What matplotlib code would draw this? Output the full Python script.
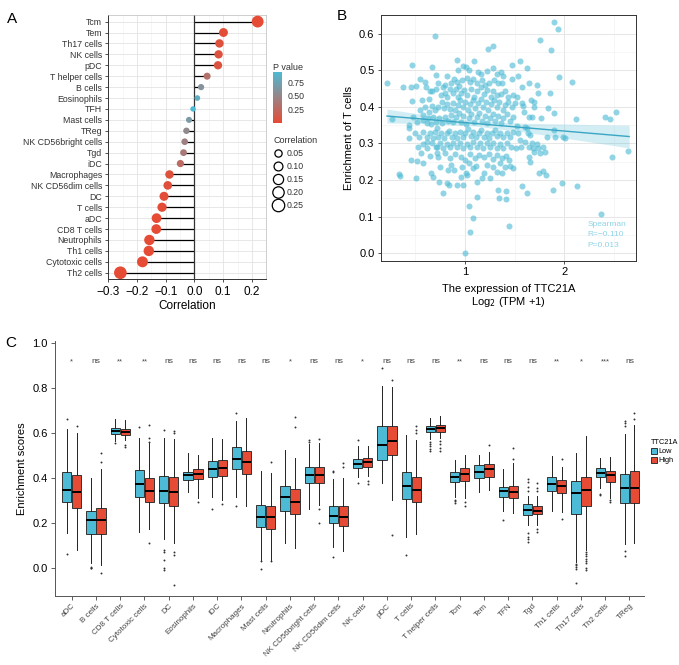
import numpy as np
import matplotlib
matplotlib.use("Agg")
import matplotlib.pyplot as plt
from matplotlib.colors import LinearSegmentedColormap, Normalize
from matplotlib.cm import ScalarMappable
from matplotlib.lines import Line2D
from matplotlib.patches import Patch

plt.rcParams["font.family"] = ["Liberation Sans", "DejaVu Sans"]

RED = "#E64B35"
BLUE = "#4DBBD5"

# ---------------- panel A data ----------------
cells_a = ["Tcm", "Tem", "Th17 cells", "NK cells", "pDC", "T helper cells", "B cells",
           "Eosinophils", "TFH", "Mast cells", "TReg", "NK CD56bright cells", "Tgd", "iDC",
           "Macrophages", "NK CD56dim cells", "DC", "T cells", "aDC", "CD8 T cells",
           "Neutrophils", "Th1 cells", "Cytotoxic cells", "Th2 cells"]
corr_a = [0.220, 0.101, 0.087, 0.084, 0.082, 0.044, 0.023, 0.010, -0.005, -0.019, -0.028,
          -0.034, -0.038, -0.049, -0.087, -0.093, -0.106, -0.113, -0.132, -0.133, -0.157,
          -0.159, -0.181, -0.258]
pval_a = [0.0, 0.02, 0.05, 0.06, 0.07, 0.32, 0.60, 0.83, 0.948, 0.67, 0.53, 0.45, 0.40,
          0.27, 0.05, 0.04, 0.02, 0.01, 0.003, 0.003, 0.001, 0.001, 0.0, 0.0]
size_legend = [0.05, 0.10, 0.15, 0.20, 0.25]

# ---------------- panel B data ----------------
ttc21a_vs_tcells = [
    (0.224, 0.464), (0.268, 0.367), (0.344, 0.217), (0.351, 0.212), (0.385, 0.454),
    (0.438, 0.342), (0.445, 0.351), (0.445, 0.314), (0.462, 0.255), (0.475, 0.515),
    (0.462, 0.454), (0.472, 0.417), (0.512, 0.205), (0.512, 0.457), (0.525, 0.253),
    (0.552, 0.476), (0.559, 0.275), (0.572, 0.419), (0.579, 0.378), (0.585, 0.246),
    (0.602, 0.469), (0.612, 0.455), (0.619, 0.355), (0.625, 0.305), (0.639, 0.422),
    (0.652, 0.266), (0.662, 0.219), (0.672, 0.510), (0.672, 0.442), (0.686, 0.209),
    (0.702, 0.594), (0.712, 0.487), (0.719, 0.291), (0.719, 0.273), (0.726, 0.342),
    (0.739, 0.196), (0.786, 0.164), (0.803, 0.460), (0.819, 0.193), (0.833, 0.228),
    (0.839, 0.187), (0.866, 0.241), (0.893, 0.228), (0.920, 0.528), (0.933, 0.501),
    (0.920, 0.187), (0.980, 0.187), (1.000, 0.000), (1.013, 0.219), (1.027, 0.214),
    (1.047, 0.130), (1.054, 0.058), (1.080, 0.097), (1.094, 0.524), (1.120, 0.153),
    (1.171, 0.205), (1.234, 0.557), (1.288, 0.565), (1.334, 0.173), (1.341, 0.150),
    (1.415, 0.171), (1.415, 0.148), (1.448, 0.075), (1.472, 0.515), (1.482, 0.234),
    (1.555, 0.526), (1.575, 0.184), (1.622, 0.507), (1.622, 0.164), (1.649, 0.466),
    (1.669, 0.419), (1.696, 0.414), (1.749, 0.219), (1.756, 0.583), (1.722, 0.460),
    (1.736, 0.437), (1.763, 0.369), (1.789, 0.226), (1.816, 0.214), (1.823, 0.319),
    (1.839, 0.396), (1.856, 0.437), (1.863, 0.556), (1.890, 0.173), (1.896, 0.633),
    (1.900, 0.383), (1.896, 0.337), (1.910, 0.319), (1.940, 0.613), (1.943, 0.481),
    (1.980, 0.191), (1.990, 0.319), (2.003, 0.314), (2.077, 0.469), (2.117, 0.366),
    (2.124, 0.184), (2.371, 0.107), (2.411, 0.373), (2.458, 0.367), (2.482, 0.262),
    (2.518, 0.387), (2.642, 0.280),
    (1.572, 0.410), (1.582, 0.403), (1.595, 0.387), (1.609, 0.346), (1.622, 0.342),
    (1.639, 0.328), (1.656, 0.323), (1.672, 0.301), (1.649, 0.291), (1.686, 0.287),
    (1.696, 0.278), (1.722, 0.299), (1.739, 0.287), (1.756, 0.273), (1.789, 0.291),
    (1.806, 0.278), (1.649, 0.262), (1.656, 0.250), (1.522, 0.348), (1.538, 0.328),
    (1.555, 0.310), (1.562, 0.291), (1.515, 0.287), (1.538, 0.483), (1.572, 0.455),
    (1.522, 0.428), (1.642, 0.372), (1.676, 0.373), (1.696, 0.401), (1.605, 0.305),
    (0.980, 0.512), (1.010, 0.510), (1.040, 0.501), (1.134, 0.496), (1.161, 0.490),
    (1.221, 0.499), (1.281, 0.505), (1.321, 0.490), (1.361, 0.494), (1.388, 0.483),
    (1.472, 0.475), (0.819, 0.483), (0.860, 0.466), (0.893, 0.475), (0.920, 0.469),
    (0.946, 0.457), (0.970, 0.474), (1.020, 0.478), (1.054, 0.469), (1.087, 0.475),
    (1.120, 0.466), (1.171, 0.474), (1.204, 0.460), (1.248, 0.466), (1.298, 0.474),
    (1.338, 0.464), (1.371, 0.466), (0.779, 0.454), (0.736, 0.464),
    (0.652, 0.444), (0.712, 0.448), (0.759, 0.433), (0.803, 0.439), (0.826, 0.428),
    (0.853, 0.448), (0.886, 0.437), (0.913, 0.448), (0.933, 0.428), (0.960, 0.439),
    (0.993, 0.446), (1.027, 0.433), (1.060, 0.448), (1.094, 0.428), (1.127, 0.442),
    (1.161, 0.454), (1.194, 0.435), (1.221, 0.446), (1.261, 0.428), (1.288, 0.442),
    (1.321, 0.433), (1.361, 0.435), (1.405, 0.442), (1.438, 0.428), (1.482, 0.433),
    (0.552, 0.392), (0.602, 0.401), (0.645, 0.387), (0.669, 0.403), (0.702, 0.392),
    (0.736, 0.401), (0.769, 0.414), (0.793, 0.396), (0.826, 0.408), (0.853, 0.393),
    (0.880, 0.410), (0.903, 0.392), (0.930, 0.405), (0.953, 0.419), (0.980, 0.399),
    (1.003, 0.414), (1.030, 0.392), (1.054, 0.408), (1.080, 0.419), (1.107, 0.396),
    (1.134, 0.410), (1.161, 0.421), (1.187, 0.401), (1.211, 0.414), (1.237, 0.392),
    (1.264, 0.408), (1.294, 0.419), (1.321, 0.399), (1.348, 0.412), (1.381, 0.392),
    (1.405, 0.405), (1.438, 0.414), (1.472, 0.399), (1.505, 0.410),
    (0.485, 0.372), (0.525, 0.360), (0.579, 0.364), (0.635, 0.369), (0.659, 0.353),
    (0.686, 0.373), (0.712, 0.360), (0.746, 0.369), (0.773, 0.355), (0.803, 0.373),
    (0.836, 0.362), (0.860, 0.378), (0.886, 0.358), (0.913, 0.371), (0.940, 0.383),
    (0.963, 0.360), (0.987, 0.375), (1.013, 0.353), (1.040, 0.369), (1.067, 0.381),
    (1.094, 0.360), (1.120, 0.373), (1.147, 0.384), (1.174, 0.362), (1.201, 0.375),
    (1.227, 0.355), (1.254, 0.369), (1.281, 0.381), (1.308, 0.362), (1.334, 0.375),
    (1.361, 0.355), (1.388, 0.369), (1.421, 0.381), (1.455, 0.362), (1.488, 0.373),
    (0.502, 0.330), (0.545, 0.319), (0.585, 0.332), (0.619, 0.319), (0.652, 0.328),
    (0.679, 0.314), (0.706, 0.332), (0.736, 0.319), (0.763, 0.330), (0.789, 0.314),
    (0.819, 0.328), (0.846, 0.335), (0.873, 0.319), (0.900, 0.328), (0.926, 0.314),
    (0.953, 0.332), (0.980, 0.319), (1.007, 0.328), (1.033, 0.339), (1.060, 0.321),
    (1.087, 0.332), (1.114, 0.317), (1.140, 0.328), (1.167, 0.337), (1.194, 0.319),
    (1.221, 0.330), (1.248, 0.314), (1.274, 0.328), (1.301, 0.337), (1.328, 0.321),
    (1.355, 0.330), (1.388, 0.317), (1.421, 0.330), (1.455, 0.319), (1.488, 0.332),
    (0.535, 0.291), (0.585, 0.299), (0.625, 0.287), (0.669, 0.301), (0.712, 0.291),
    (0.753, 0.302), (0.786, 0.287), (0.819, 0.299), (0.853, 0.290), (0.886, 0.302),
    (0.920, 0.291), (0.953, 0.301), (0.987, 0.287), (1.020, 0.299), (1.054, 0.290),
    (1.087, 0.305), (1.120, 0.291), (1.154, 0.301), (1.187, 0.287), (1.221, 0.301),
    (1.254, 0.291), (1.288, 0.302), (1.321, 0.287), (1.355, 0.299), (1.388, 0.287),
    (1.421, 0.301), (1.462, 0.291),
    (0.736, 0.264), (0.803, 0.273), (0.853, 0.260), (0.903, 0.271), (0.960, 0.264),
    (1.003, 0.255), (1.054, 0.271), (1.104, 0.260), (1.147, 0.269), (1.194, 0.262),
    (1.248, 0.271), (1.288, 0.257), (1.328, 0.269), (1.371, 0.260), (1.415, 0.266),
    (1.448, 0.255), (0.753, 0.237), (0.970, 0.237), (1.047, 0.246), (1.114, 0.239),
    (1.221, 0.241), (1.281, 0.237), (1.355, 0.246), (1.405, 0.237), (1.455, 0.239),
    (1.321, 0.223), (1.371, 0.219), (1.191, 0.219), (1.087, 0.232), (0.960, 0.209),
    (1.127, 0.196), (1.254, 0.205),
]
fit_x = [0.22, 2.65]
fit_y = [0.375, 0.319]
band_x = [0.22, 0.60, 1.10, 1.60, 2.10, 2.65]
band_half = [0.019, 0.012, 0.007, 0.012, 0.021, 0.031]

# ---------------- panel C data ----------------
cells_c = ["aDC", "B cells", "CD8 T cells", "Cytotoxic cells", "DC", "Eosinophils", "iDC",
           "Macrophages", "Mast cells", "Neutrophils", "NK CD56bright cells",
           "NK CD56dim cells", "NK cells", "pDC", "T cells", "T helper cells", "Tcm", "Tem",
           "TFN", "Tgd", "Th1 cells", "Th17 cells", "Th2 cells", "TReg"]
signif = ["*", "ns", "**", "**", "ns", "ns", "ns", "ns", "ns", "*", "ns", "ns", "*", "ns",
          "ns", "ns", "**", "ns", "ns", "ns", "**", "*", "***", "ns"]

low_wlo = [0.153, 0.019, 0.565, 0.160, 0.126, 0.335, 0.316, 0.313, 0.034, 0.111, 0.262, 0.094,
           0.406, 0.379, 0.138, 0.572, 0.316, 0.336, 0.254, 0.190, 0.254, 0.027, 0.354, 0.104]
low_q1 = [0.291, 0.150, 0.596, 0.313, 0.287, 0.391, 0.403, 0.438, 0.180, 0.254, 0.376, 0.198,
          0.443, 0.480, 0.305, 0.603, 0.380, 0.401, 0.316, 0.236, 0.342, 0.238, 0.406, 0.287]
low_med = [0.346, 0.211, 0.609, 0.371, 0.343, 0.415, 0.441, 0.484, 0.227, 0.316, 0.413, 0.230,
           0.462, 0.547, 0.364, 0.618, 0.406, 0.428, 0.342, 0.257, 0.373, 0.334, 0.423, 0.354]
low_q3 = [0.425, 0.254, 0.621, 0.435, 0.409, 0.428, 0.477, 0.536, 0.279, 0.366, 0.447, 0.275,
          0.484, 0.632, 0.428, 0.632, 0.425, 0.458, 0.361, 0.282, 0.406, 0.386, 0.443, 0.416]
low_whi = [0.620, 0.398, 0.661, 0.577, 0.577, 0.510, 0.577, 0.655, 0.431, 0.524, 0.550, 0.394,
           0.540, 0.810, 0.591, 0.669, 0.480, 0.500, 0.438, 0.320, 0.498, 0.510, 0.487, 0.596]
low_out = [[0.663, 0.061], [0.0, 0.003, -0.002], [0.555], [0.625], [0.615, 0.080, 0.070, 0.035,
           0.0, -0.010], [], [0.262], [0.691, 0.276], [0.030, -0.007], [], [0.560, 0.570],
           [0.430, 0.425, 0.046], [0.570, 0.376], [0.889], [0.056],
           [0.560, 0.550, 0.540, 0.530, 0.520], [0.300, 0.295, 0.290], [], [0.212],
           [0.340, 0.360, 0.383, 0.395, 0.153, 0.138, 0.126, 0.116], [],
           [0.017, 0.010, 0.002, -0.005, -0.070], [0.330, 0.325], [0.630, 0.645, 0.655,
           0.074, 0.052]]

high_wlo = [0.079, 0.010, 0.570, 0.171, 0.108, 0.312, 0.300, 0.276, 0.030, 0.089, 0.280, 0.076,
            0.410, 0.300, 0.149, 0.580, 0.310, 0.345, 0.245, 0.190, 0.250, 0.079, 0.310, 0.111]
high_q1 = [0.267, 0.150, 0.593, 0.294, 0.276, 0.394, 0.409, 0.416, 0.171, 0.238, 0.376, 0.186,
           0.450, 0.502, 0.294, 0.606, 0.388, 0.406, 0.309, 0.238, 0.334, 0.275, 0.383, 0.290]
high_med = [0.339, 0.212, 0.605, 0.343, 0.339, 0.416, 0.444, 0.470, 0.227, 0.293, 0.412, 0.227,
            0.470, 0.566, 0.346, 0.621, 0.416, 0.438, 0.339, 0.254, 0.364, 0.346, 0.413, 0.357]
high_q3 = [0.413, 0.267, 0.617, 0.400, 0.403, 0.440, 0.480, 0.520, 0.276, 0.349, 0.447, 0.275,
           0.487, 0.632, 0.406, 0.634, 0.443, 0.462, 0.364, 0.276, 0.391, 0.406, 0.431, 0.432]
high_whi = [0.599, 0.440, 0.660, 0.554, 0.575, 0.502, 0.575, 0.666, 0.420, 0.487, 0.554, 0.400,
            0.540, 0.804, 0.569, 0.678, 0.502, 0.517, 0.465, 0.320, 0.450, 0.587, 0.495, 0.636]
high_out = [[0.632], [0.470, 0.510, -0.025], [0.547, 0.536], [0.560, 0.580, 0.636, 0.110],
            [0.600, 0.610, 0.070, 0.055, -0.075], [0.294], [0.284], [], [0.470, 0.030],
            [0.628, 0.670], [0.575, 0.262, 0.200], [0.450, 0.465], [0.385, 0.375],
            [0.837, 0.146], [0.600, 0.615, 0.630], [0.565, 0.550, 0.535, 0.520],
            [0.294, 0.276], [0.547], [0.484, 0.532], [0.340, 0.355, 0.376, 0.172, 0.160],
            [0.484, 0.215], [0.070, 0.060, 0.050, 0.040, 0.030, 0.020, 0.0, -0.010],
            [0.300, 0.294], [0.661, 0.688]]

# ---------------- figure ----------------
fig = plt.figure(figsize=(6.79, 6.65), dpi=100)

# ---- panel A ----
cmap = LinearSegmentedColormap.from_list("pv", [RED, BLUE])
norm = Normalize(0, 0.948)
axA = fig.add_axes([0.1595, 0.58, 0.2318, 0.3974])
n = len(cells_a)
ya = np.arange(n)[::-1]
corr = np.array(corr_a)
sizes = 0.5184 * (27 + 515 * np.abs(corr))
axA.hlines(ya, 0, corr, color="black", lw=0.9, zorder=2)
axA.axvline(0, color="#333333", lw=0.9, zorder=2)
axA.scatter(corr, ya, s=sizes, c=pval_a, cmap=cmap, norm=norm, zorder=3, linewidths=0)
axA.set_xlim(-0.300, 0.248)
axA.set_ylim(-0.6, n - 0.4)
axA.set_yticks(ya)
axA.set_yticklabels(cells_a, fontsize=6.3, color="#333333")
axA.set_xticks([-0.3, -0.2, -0.1, 0.0, 0.1, 0.2])
axA.set_xticklabels(["\u22120.3", "\u22120.2", "\u22120.1", "0.0", "0.1", "0.2"], fontsize=8.5)
axA.set_xticks(np.arange(-0.25, 0.25, 0.1), minor=True)
axA.grid(True, which="major", color="#E3E3E3", lw=0.6)
axA.grid(True, which="minor", axis="x", color="#EFEFEF", lw=0.4)
axA.set_axisbelow(True)
axA.tick_params(axis="both", which="major", length=2.5, width=0.6, color="#333333", pad=2)
axA.tick_params(axis="x", which="minor", length=0)
axA.set_xlabel("Correlation", fontsize=8.5, labelpad=2)
for side in ["left", "bottom"]:
    axA.spines[side].set_color("#333333")
    axA.spines[side].set_linewidth(0.7)
for side in ["top", "right"]:
    axA.spines[side].set_color("#BBBBBB")
    axA.spines[side].set_linewidth(0.5)

cax = fig.add_axes([0.4016, 0.8155, 0.0141, 0.0767])
cb = fig.colorbar(ScalarMappable(norm=norm, cmap=cmap), cax=cax)
cb.outline.set_visible(False)
cb.set_ticks([0.25, 0.50, 0.75])
cb.set_ticklabels(["0.25", "0.50", "0.75"])
cax.tick_params(labelsize=6.3, length=2, color="white", width=0.6, pad=2, labelcolor="#333333")
fig.text(0.4016, 0.892, "P value", fontsize=6.5, color="#333333", va="bottom")

size_handles = [Line2D([], [], ls="none", marker="o", markerfacecolor="none",
                       markeredgecolor="black", markeredgewidth=0.9,
                       markersize=0.72 * np.sqrt(27 + 515 * v)) for v in size_legend]
leg = axA.legend(size_handles, ["%.2f" % v for v in size_legend], title="Correlation",
                 loc="upper left", bbox_to_anchor=(0.397, 0.802), bbox_transform=fig.transFigure,
                 frameon=False, fontsize=6.3, title_fontsize=6.5, handlelength=1.0,
                 handletextpad=0.4, labelspacing=0.45, borderpad=0, alignment="left")
for t in leg.get_texts():
    t.set_color("#333333")
leg.get_title().set_color("#333333")

# ---- panel B ----
axB = fig.add_axes([0.5607, 0.608, 0.376, 0.3695])
pts = np.array(ttc21a_vs_tcells)
bx = np.array(band_x)
by = np.interp(bx, fit_x, fit_y)
axB.fill_between(bx, by - np.array(band_half), by + np.array(band_half),
                 color=BLUE, alpha=0.25, lw=0, zorder=2)
axB.scatter(pts[:, 0], pts[:, 1], s=19, color=BLUE, alpha=0.62, linewidths=0, zorder=3)
axB.plot(fit_x, fit_y, color="#3AA6C4", lw=1.0, zorder=4)
axB.set_xlim(0.157, 2.719)
axB.set_ylim(-0.020, 0.651)
axB.set_xticks([1, 2])
axB.set_xticks([0.5, 1.5, 2.5], minor=True)
axB.set_yticks(np.arange(0, 0.61, 0.1))
axB.set_yticks(np.arange(0.05, 0.65, 0.1), minor=True)
axB.set_yticklabels(["0.0", "0.1", "0.2", "0.3", "0.4", "0.5", "0.6"])
axB.grid(True, which="major", color="#E6E6E6", lw=0.7)
axB.grid(True, which="minor", color="#F0F0F0", lw=0.4)
axB.set_axisbelow(True)
axB.tick_params(axis="both", which="major", labelsize=8, length=2.5, width=0.6,
                color="#333333", pad=2)
axB.tick_params(axis="both", which="minor", length=0)
for s in axB.spines.values():
    s.set_color("#333333")
    s.set_linewidth(0.7)
axB.set_ylabel("Enrichment of T cells", fontsize=8, labelpad=4)
axB.set_xlabel("The expression of TTC21A\nLog$_2$ (TPM +1)", fontsize=8, labelpad=5,
               linespacing=1.1)
axB.text(0.81, 0.105, "Spearman\nR=\u22120.110\nP=0.013", transform=axB.transAxes,
         fontsize=6, color="#8FD3E6", va="center", ha="left", linespacing=1.75)

# ---- panel C ----
axC = fig.add_axes([0.0806, 0.1045, 0.8679, 0.3827])
pos = np.arange(len(cells_c))


def stats_for(wlo, q1, med, q3, whi, out):
    return [dict(whislo=a, q1=b, med=c, q3=d, whishi=e, fliers=f)
            for a, b, c, d, e, f in zip(wlo, q1, med, q3, whi, out)]


box_kw = dict(widths=0.38, patch_artist=True, showcaps=False,
              medianprops=dict(color="black", lw=1.4),
              whiskerprops=dict(color="#222222", lw=0.7),
              flierprops=dict(marker="o", markersize=1.4, markerfacecolor="#333333",
                              markeredgecolor="none"))
for stats, offset, color in [
        (stats_for(low_wlo, low_q1, low_med, low_q3, low_whi, low_out), -0.205, BLUE),
        (stats_for(high_wlo, high_q1, high_med, high_q3, high_whi, high_out), 0.205, RED)]:
    axC.bxp(stats, positions=pos + offset,
            boxprops=dict(facecolor=color, edgecolor="#333333", lw=0.7), **box_kw)

for p, s in zip(pos, signif):
    axC.text(p, 0.918, s, ha="center", va="center", fontsize=6 if s == "ns" else 5.5,
             color="#444444")
axC.set_xlim(-0.7, len(cells_c) - 0.4)
axC.set_ylim(-0.124, 1.01)
axC.set_xticks(pos)
axC.set_xticklabels(cells_c, rotation=45, ha="right", rotation_mode="anchor",
                    fontsize=5.8, color="#444444")
axC.set_yticks(np.arange(0, 1.01, 0.2))
axC.set_yticklabels(["0.0", "0.2", "0.4", "0.6", "0.8", "1.0"])
axC.tick_params(axis="y", labelsize=8, length=3, width=0.6, color="#444444", pad=2)
axC.tick_params(axis="x", length=3, width=0.6, color="#444444", pad=2)
for side in ["top", "right"]:
    axC.spines[side].set_visible(False)
for side in ["left", "bottom"]:
    axC.spines[side].set_color("#555555")
    axC.spines[side].set_linewidth(0.7)
axC.set_ylabel("Enrichment scores", fontsize=8, labelpad=4)

grp_handles = [Patch(facecolor=BLUE, edgecolor="#333333", lw=0.7),
               Patch(facecolor=RED, edgecolor="#333333", lw=0.7)]
legC = axC.legend(grp_handles, ["Low", "High"], title="TTC21A", loc="upper left",
                  bbox_to_anchor=(0.953, 0.345), bbox_transform=fig.transFigure, frameon=False,
                  fontsize=5.3, title_fontsize=5.3, handlelength=0.9, handleheight=0.9,
                  handletextpad=0.2, labelspacing=0.2, borderpad=0, alignment="left")

fig.text(0.010, 0.972, "A", fontsize=11, va="center")
fig.text(0.496, 0.976, "B", fontsize=11, va="center")
fig.text(0.008, 0.484, "C", fontsize=11, va="center")

fig.savefig("out.png", dpi=100)
